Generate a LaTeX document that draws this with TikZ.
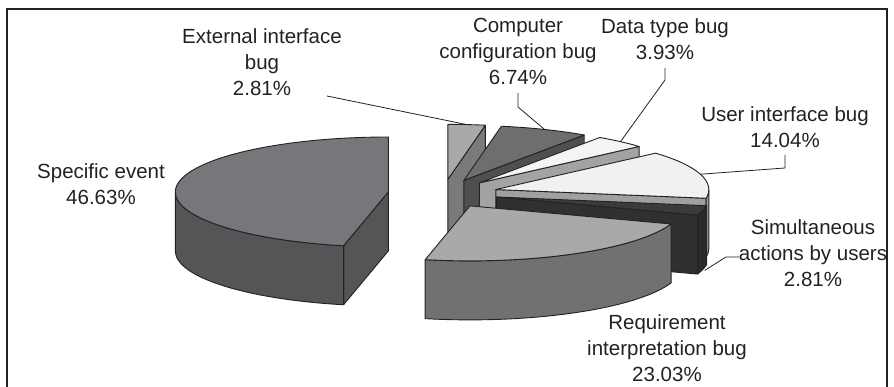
\documentclass[tikz,border=0pt]{standalone}
\usepackage{fontspec}
\setmainfont{Liberation Sans}
\usetikzlibrary{calc}

\definecolor{inkc}{HTML}{222222}
\definecolor{spectop}{HTML}{77777B}
\definecolor{specside}{HTML}{555557}
\definecolor{exttop}{HTML}{A9A9AB}
\definecolor{extside}{HTML}{7A7A7C}
\definecolor{comptop}{HTML}{6E6E70}
\definecolor{compside}{HTML}{4F4F51}
\definecolor{datatop}{HTML}{F4F4F4}
\definecolor{dataside}{HTML}{A3A3A5}
\definecolor{uitop}{HTML}{F1F1F1}
\definecolor{uiside}{HTML}{A0A0A2}
\definecolor{simtop}{HTML}{3B3B3B}
\definecolor{simside}{HTML}{303030}
\definecolor{simcurve}{HTML}{2A2A2A}
\definecolor{reqtop}{HTML}{A9A9AB}
\definecolor{reqside}{HTML}{717173}

% pie geometry (pt): radii 213 x 55, height 59, explosion 55 x 14.2
\newcommand\sliceapex[3]{\coordinate (#1) at ({443+55*cos((#2+#3)/2)},{-193.5+14.2*sin((#2+#3)/2)});}
\newcommand\slicetop[4]{\filldraw[edge,fill=#4] (#1) -- ($(#1)+(#2:213pt and 55pt)$)
  arc[start angle=#2,end angle=#3,x radius=213pt,y radius=55pt] -- cycle;}
\newcommand\sliceradial[3]{\filldraw[edge,fill=#3] (#1) -- ($(#1)+(#2:213pt and 55pt)$)
  -- ++(0,-59pt) -- ($(#1)+(0,-59pt)$) -- cycle;}
\newcommand\slicecurve[4]{\filldraw[edge,fill=#4] ($(#1)+(#2:213pt and 55pt)$)
  arc[start angle=#2,end angle=#3,x radius=213pt,y radius=55pt] -- ++(0,-59pt)
  arc[start angle=#3,end angle=#2,x radius=213pt,y radius=55pt] -- cycle;}

\begin{document}
\begin{tikzpicture}[x=1pt,y=1pt,
  edge/.style={draw=inkc,line width=0.9pt,line join=round},
  lbl/.style={align=center,inner sep=0pt,font=\fontsize{20.5}{26}\selectfont,text=inkc},
  leader/.style={draw=inkc,line width=0.8pt}]
\useasboundingbox (0,0) rectangle (894,-387);
\draw[inkc,line width=1.4pt] (7,-390) -- (7,-9) -- (887,-9) -- (887,-390);

% slice apexes (angles in degrees, counter-clockwise)
\sliceapex{A-spec}{90}{257.87}
\sliceapex{A-req}{257.87}{340.78}
\sliceapex{A-sim}{340.78}{350.89}
\sliceapex{A-ui}{350.89}{401.44}
\sliceapex{A-data}{41.44}{55.59}
\sliceapex{A-comp}{55.59}{79.85}
\sliceapex{A-ext}{79.85}{90}

% back to front
\sliceradial{A-ext}{79.85}{extside}
\slicetop{A-ext}{79.85}{90}{exttop}

\sliceradial{A-comp}{55.59}{compside}
\slicetop{A-comp}{55.59}{79.85}{comptop}

\sliceradial{A-data}{41.44}{dataside}
\slicetop{A-data}{41.44}{55.59}{datatop}

\sliceradial{A-ui}{350.89}{uiside}
\slicecurve{A-ui}{350.89}{360}{uiside}
\slicetop{A-ui}{350.89}{401.44}{uitop}

\sliceradial{A-spec}{257.87}{specside}
\slicecurve{A-spec}{180}{257.87}{specside}
\slicetop{A-spec}{90}{257.87}{spectop}

\sliceradial{A-sim}{340.78}{simside}
\slicecurve{A-sim}{340.78}{350.89}{simcurve}
\slicetop{A-sim}{340.78}{350.89}{simtop}

\slicecurve{A-req}{257.87}{340.78}{reqside}
\slicetop{A-req}{257.87}{340.78}{reqtop}

% leader targets
\coordinate (p-ext) at ($(A-ext)+(84.93:213pt and 55pt)$);
\coordinate (p-comp) at ($(A-comp)+(67.72:213pt and 55pt)$);
\coordinate (p-data) at ($(A-data)+(48.52:213pt and 55pt)$);
\coordinate (p-ui) at ($(A-ui)+(16.17:213pt and 55pt)$);
\coordinate (p-sim) at ($(A-sim)+(-12:213pt and 55pt)+(0,-62pt)$);

% labels
\node[lbl] (l-spec) at (101,-184) {Specific event\\46.63\%};
\node[lbl] (l-ext) at (262,-62) {External interface\\bug\\2.81\%};
\node[lbl] (l-comp) at (518,-51) {Computer\\configuration bug\\6.74\%};
\node[lbl] (l-data) at (665,-39) {Data type bug\\3.93\%};
\node[lbl] (l-ui) at (785,-127) {User interface bug\\14.04\%};
\node[lbl] (l-sim) at (813,-253) {Simultaneous\\actions by users\\2.81\%};
\node[lbl] (l-req) at (667,-348) {Requirement\\interpretation bug\\23.03\%};

% leader lines
\coordinate (s-ext) at (327,-96);
\coordinate (s-comp) at (518,-93);
\coordinate (s-data) at (665,-68);
\coordinate (s-ui) at (785,-155);
\coordinate (s-sim) at (739,-257);
\draw[leader] (s-ext) -- (p-ext);
\draw[leader] (s-comp) -- ++(0,-14) -- (p-comp);
\draw[leader] (s-data) -- ++(0,-12) -- (p-data);
\draw[leader] (s-ui) -- ++(0,-13) -- (p-ui);
\draw[leader] (s-sim) -- ++(-13,0) -- (p-sim);
\end{tikzpicture}
\end{document}
